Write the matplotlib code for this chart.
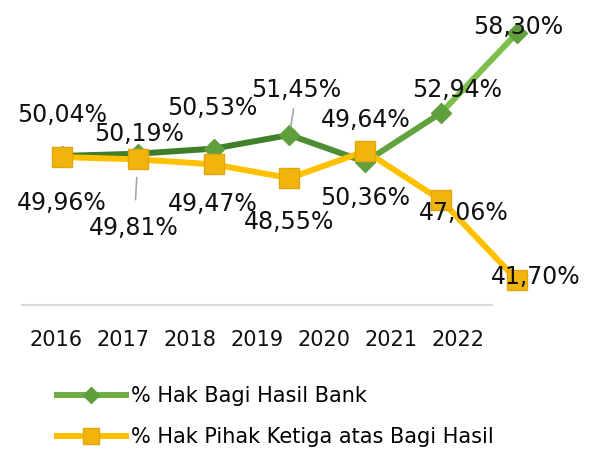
import numpy as np
import matplotlib
matplotlib.use("Agg")
import matplotlib.pyplot as plt
from matplotlib.colors import LinearSegmentedColormap
from matplotlib.lines import Line2D

years = ["2016", "2017", "2018", "2019", "2020", "2021", "2022"]
bank = [50.04, 50.19, 50.53, 51.45, 49.64, 52.94, 58.30]
third = [49.96, 49.81, 49.47, 48.55, 50.36, 47.06, 41.70]
bank_label = "% Hak Bagi Hasil Bank"
third_label = "% Hak Pihak Ketiga atas Bagi Hasil"

# label offsets in pixels (dx, dy up) relative to each point
bank_off = [(0, 41), (1, 20), (-1, 41), (7, 45), (0, 42), (16, 23), (1, 6)]
third_off = [(0, -46), (-4, -69), (-1, -40), (0, -44), (0, -47), (23, -13), (19, 3)]

W, H, DPI = 591, 455, 100
fig = plt.figure(figsize=(W / DPI, H / DPI), dpi=DPI)
plt.rcParams["font.family"] = ["DejaVu Sans"]

# category axis (baseline + year labels)
axis_y = 305
ax_cat = fig.add_axes([22 / W, 1 - axis_y / H, 470 / W, 0.01])
ax_cat.set_xlim(-0.5, len(years) - 0.5)
ax_cat.set_xticks(range(len(years)))
ax_cat.set_xticklabels(years, fontsize=15, color="#111111")
ax_cat.tick_params(axis="x", length=0, pad=18)
ax_cat.set_yticks([])
for s in ["top", "left", "right"]:
    ax_cat.spines[s].set_visible(False)
ax_cat.spines["bottom"].set_color("#d9d9d9")
ax_cat.spines["bottom"].set_linewidth(1.5)
ax_cat.patch.set_alpha(0)

# data axes
ax = fig.add_axes([0, 1 - axis_y / H, 1, axis_y / H])
ax.set_xlim(-0.8176, 6.976)
ax.set_ylim(40.02, 60.52)
ax.axis("off")
ax.patch.set_alpha(0)

x = np.arange(len(years))
green_cmap = LinearSegmentedColormap.from_list("g", ["#3f7d2a", "#3f7d2a", "#4f9233", "#7cc04b"])
for i in range(len(x) - 1):
    ax.plot(x[i:i + 2], bank[i:i + 2], color=green_cmap(i / (len(x) - 2)), lw=4.3,
            solid_capstyle="round", zorder=2)
ax.plot(x, bank, ls="none", marker="D", ms=10, mfc="#5f9f3d", mec="#5f9f3d", zorder=3)

ax.plot(x, third, color="#ffc000", lw=4.3, zorder=4)
ax.plot(x, third, ls="none", marker="s", ms=14, mfc="#f0b40c", mec="#e0a60a", zorder=5)

pt = 72 / DPI
for i, v in enumerate(bank):
    dx, dy = bank_off[i]
    txt = f"{v:.2f}".replace(".", ",") + "%"
    ap = None
    if i == 3:
        ap = dict(arrowstyle="-", color="#a6a6a6", lw=1.2, shrinkA=3, shrinkB=6)
    ax.annotate(txt, (x[i], v), xytext=(dx * pt, dy * pt), textcoords="offset points",
                ha="center", va="center", fontsize=17, color="#111111",
                arrowprops=ap, zorder=6, annotation_clip=False)
for i, v in enumerate(third):
    dx, dy = third_off[i]
    txt = f"{v:.2f}".replace(".", ",") + "%"
    ap = None
    if i == 1:
        ap = dict(arrowstyle="-", color="#a6a6a6", lw=1.2, shrinkA=10, shrinkB=13)
    ax.annotate(txt, (x[i], v), xytext=(dx * pt, dy * pt), textcoords="offset points",
                ha="center", va="center", fontsize=17, color="#111111",
                arrowprops=ap, zorder=6, annotation_clip=False)

handles = [
    Line2D([], [], color="#70ad47", lw=4.3, marker="D", ms=8, mfc="#5f9f3d", mec="#5f9f3d"),
    Line2D([], [], color="#ffc000", lw=4.3, marker="s", ms=11, mfc="#f0b40c", mec="#e0a60a"),
]
fig.legend(handles, [bank_label, third_label], loc="upper left",
           bbox_to_anchor=(57 / W, 1 - 386 / H), frameon=False, fontsize=15,
           handlelength=3.3, handletextpad=0.25, labelspacing=1.0,
           borderpad=0, borderaxespad=0)

fig.savefig("out.png", dpi=DPI)
